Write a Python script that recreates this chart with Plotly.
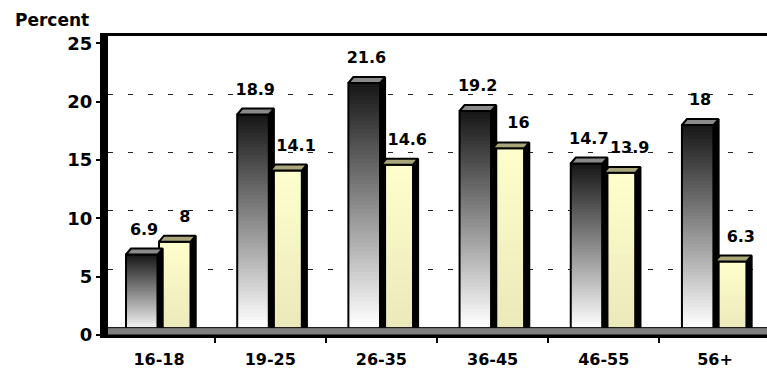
import plotly.graph_objects as go

# ---- data -------------------------------------------------------------
categories = ["16-18", "19-25", "26-35", "36-45", "46-55", "56+"]
series_dark = [6.9, 18.9, 21.6, 19.2, 14.7, 18.0]
series_light = [8.0, 14.1, 14.6, 16.0, 13.9, 6.3]
y_ticks = [0, 5, 10, 15, 20, 25]
y_title = "Percent"

# ---- geometry / style (axis units) ------------------------------------
BAR_W = 0.285          # width of a bar's front face (category units)
OFF_DARK = -0.297      # left edge of dark bar relative to category centre
OFF_LIGHT = 0.0        # left edge of light bar relative to category centre
DX, DY = 0.045, 0.51   # 3-D extrusion of the bars (x units, y units)
WALL = 0.63            # depth of floor / back wall in y units
Y_TOP = 25 + WALL
FONT = "DejaVu Sans"

xs = list(range(len(categories)))
fig = go.Figure()

# floor: band between the front edge (y=0) and the back wall (y2=0)
fig.add_trace(go.Scatter(
    x=[-0.6, 5.6, 5.6, -0.6, -0.6], y=[-WALL, -WALL, 0, 0, -WALL],
    yaxis="y2", mode="lines", fill="toself", fillcolor="#7f7f7f",
    line=dict(color="black", width=1), hoverinfo="skip"))


def lerp(c0, c1, t):
    return "rgb(%d,%d,%d)" % tuple(round(a + (b - a) * t) for a, b in zip(c0, c1))


def add_bar_series(values, offset, top_col, bottom_col, top_face, n_seg, ramp_start):
    x0 = [x + offset for x in xs]
    x1 = [x + offset + BAR_W for x in xs]
    # right-hand side faces
    sx, sy = [], []
    for a, b, v in zip(x0, x1, values):
        sx += [b, b, b + DX, b + DX, b, None]
        sy += [0, v, v + DY, 0, 0, None]
    fig.add_trace(go.Scatter(x=sx, y=sy, mode="lines", fill="toself",
                             fillcolor="black", line=dict(color="black", width=2),
                             hoverinfo="skip"))
    # top faces
    tx, ty = [], []
    for a, b, v in zip(x0, x1, values):
        tx += [a, b, b + DX, a + DX, a, None]
        ty += [v, v, v + DY, v + DY, v, None]
    fig.add_trace(go.Scatter(x=tx, y=ty, mode="lines", fill="toself",
                             fillcolor=top_face, line=dict(color="black", width=2),
                             hoverinfo="skip"))
    # front faces: vertical gradient; each slice runs from its base to the
    # bar top, so later (higher) slices cover the earlier ones without seams
    for i in range(n_seg):
        t = (i + 0.5) / n_seg
        k = min(max((t - ramp_start) / (1 - ramp_start), 0), 1)
        fig.add_trace(go.Bar(
            x=xs, y=[v * (1 - i / n_seg) for v in values],
            base=[v * i / n_seg for v in values],
            offset=offset, width=BAR_W,
            marker=dict(color=lerp(bottom_col, top_col, k), line=dict(width=0)),
            hoverinfo="skip"))
    # outline of the front faces
    fig.add_trace(go.Bar(
        x=xs, y=values, offset=offset, width=BAR_W,
        marker=dict(color="rgba(0,0,0,0)", line=dict(color="black", width=2)),
        hoverinfo="skip"))


add_bar_series(series_dark, OFF_DARK, (22, 22, 22), (252, 252, 252), "#8a8a8a", 60, 0.05)
add_bar_series(series_light, OFF_LIGHT, (255, 255, 204), (234, 231, 186), "#a9a67c", 20, 0.0)

# value labels
for vals, off, shift in ((series_dark, OFF_DARK, 0.02), (series_light, OFF_LIGHT, 0.09)):
    fig.add_trace(go.Scatter(
        x=[x + off + BAR_W / 2 + shift for x in xs], y=[v + 2.05 for v in vals],
        mode="text", text=[f"{v:g}" for v in vals], textposition="middle center",
        textfont=dict(family=FONT, size=16, color="black", weight="bold"),
        hoverinfo="skip", cliponaxis=False))

fig.add_annotation(text=y_title, xref="paper", yref="paper",
                   x=-0.1445, y=1.053, xanchor="left", yanchor="middle",
                   showarrow=False,
                   font=dict(family=FONT, size=17, color="black", weight="bold"))

fig.update_layout(
    width=767, height=369, margin=dict(l=108, r=0, t=36, b=34),
    paper_bgcolor="white", plot_bgcolor="white", showlegend=False,
    barmode="overlay",
    xaxis=dict(range=[-0.459, 5.468], tickmode="array", tickvals=xs, ticktext=categories,
               ticks="", showgrid=False, zeroline=False, automargin=False,
               showline=True, linecolor="black", linewidth=3, mirror=True,
               ticklabelstandoff=8,
               tickfont=dict(family=FONT, size=16, color="black", weight="bold"),
               minor=dict(tickmode="array", tickvals=[x + 0.5 for x in xs],
                          ticks="outside", ticklen=5, tickwidth=2, tickcolor="black",
                          showgrid=False)),
    yaxis=dict(range=[0, Y_TOP], tickmode="array", tickvals=y_ticks,
               ticks="outside", ticklen=4, tickwidth=1.5, tickcolor="black",
               showgrid=False, zeroline=False, automargin=False,
               showline=True, linecolor="black", linewidth=8,
               tickfont=dict(family=FONT, size=18, color="black", weight="bold")),
    yaxis2=dict(overlaying="y", side="left", range=[-WALL, 25],
                tickmode="array", tickvals=[5, 10, 15, 20], showticklabels=False,
                ticks="", showline=False, zeroline=False,
                showgrid=True, gridcolor="#222222", gridwidth=1, griddash="5px,15px"),
)

fig.write_html("out.html")
